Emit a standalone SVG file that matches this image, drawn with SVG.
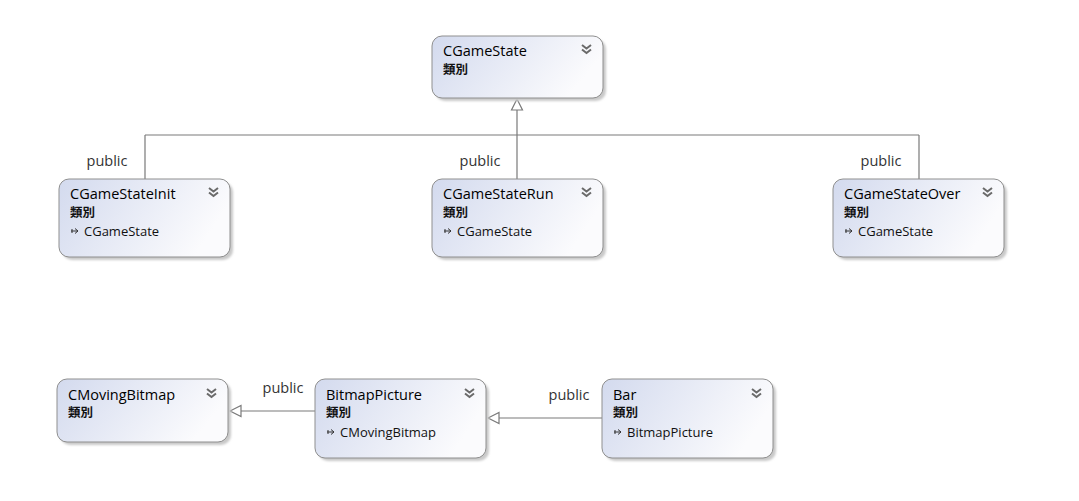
<svg xmlns="http://www.w3.org/2000/svg" width="1079" height="501" viewBox="0 0 1079 501">
<style>
.box{fill:url(#g);stroke:#8f8f8f;stroke-width:1}
.sh{fill:#c9c9c9;filter:url(#blur)}
.t{font-family:"Open Sans","Noto Sans","Liberation Sans",sans-serif;font-size:14.5px;fill:#000}
.k{font-family:"Noto Sans CJK TC","Noto Sans CJK SC",sans-serif;font-size:12.5px;font-weight:bold;fill:#111}
.b{font-family:"Open Sans","Noto Sans","Liberation Sans",sans-serif;font-size:13px;fill:#111}
.lbl{font-family:"Open Sans","Noto Sans","Liberation Sans",sans-serif;font-size:14.5px;fill:#333}
.ln{stroke:#7a7a7a;stroke-width:1.2;fill:none}
.tri{fill:#fff;stroke:#7a7a7a;stroke-width:1.2}
.ch{stroke:#6a6a6a;stroke-width:2;fill:none}
.ar{stroke:#333;stroke-width:1;fill:none}
</style>
<defs>
<linearGradient id="g" x1="0" y1="0" x2="1" y2="0.3">
<stop offset="0" stop-color="#d3daee"/>
<stop offset="1" stop-color="#fbfbfd"/>
</linearGradient>
<filter id="blur" x="-10%" y="-10%" width="120%" height="130%"><feGaussianBlur stdDeviation="1.2"/></filter>
<g id="chev"><path class="ch" d="M0,0 l4.5,3.5 l4.5,-3.5 M0,4.5 l4.5,3.5 l4.5,-3.5"/></g>
<g id="arr"><path class="ar" d="M0,0 h7 M4,-2.5 l3,2.5 l-3,2.5 M1,-2 v4"/></g>
</defs>
<rect width="1079" height="501" fill="#fff"/>
<g id="connectors">
<path class="ln" d="M517,110 V135 M145,135 H919 M145,135 V179 M517,135 V179 M919,135 V179"/>
<path class="tri" d="M517,99 L511.5,110 L522.5,110 Z"/>
<path class="ln" d="M241,411 H315"/>
<path class="tri" d="M230,411 L241,405.5 L241,416.5 Z"/>
<path class="ln" d="M499,418 H602"/>
<path class="tri" d="M488,418 L499,412.5 L499,423.5 Z"/>
<text class="lbl" x="107" y="166" text-anchor="middle">public</text>
<text class="lbl" x="480" y="166" text-anchor="middle">public</text>
<text class="lbl" x="881" y="166" text-anchor="middle">public</text>
<text class="lbl" x="283" y="393" text-anchor="middle">public</text>
<text class="lbl" x="569" y="400" text-anchor="middle">public</text>
</g>
<g id="CGameState">
<rect class="sh" x="435" y="39" width="171" height="62" rx="10"/>
<rect class="box" x="432" y="36" width="171" height="62" rx="10"/>
<text class="t" x="443" y="56">CGameState</text>
<text class="k" x="443" y="74">類別</text>
<use href="#chev" x="582" y="45"/>
</g>
<g id="CGameStateInit">
<rect class="sh" x="62" y="182" width="171" height="78" rx="10"/>
<rect class="box" x="59" y="179" width="171" height="78" rx="10"/>
<text class="t" x="70" y="199">CGameStateInit</text>
<text class="k" x="70" y="217">類別</text>
<use href="#arr" x="71" y="231"/>
<text class="b" x="84" y="235.5">CGameState</text>
<use href="#chev" x="209" y="188"/>
</g>
<g id="CGameStateRun">
<rect class="sh" x="435" y="182" width="171" height="78" rx="10"/>
<rect class="box" x="432" y="179" width="171" height="78" rx="10"/>
<text class="t" x="443" y="199">CGameStateRun</text>
<text class="k" x="443" y="217">類別</text>
<use href="#arr" x="444" y="231"/>
<text class="b" x="457" y="235.5">CGameState</text>
<use href="#chev" x="582" y="188"/>
</g>
<g id="CGameStateOver">
<rect class="sh" x="836" y="182" width="171" height="78" rx="10"/>
<rect class="box" x="833" y="179" width="171" height="78" rx="10"/>
<text class="t" x="844" y="199">CGameStateOver</text>
<text class="k" x="844" y="217">類別</text>
<use href="#arr" x="845" y="231"/>
<text class="b" x="858" y="235.5">CGameState</text>
<use href="#chev" x="983" y="188"/>
</g>
<g id="CMovingBitmap">
<rect class="sh" x="60" y="382" width="171" height="63" rx="10"/>
<rect class="box" x="57" y="379" width="171" height="63" rx="10"/>
<text class="t" x="68" y="400">CMovingBitmap</text>
<text class="k" x="68" y="417">類別</text>
<use href="#chev" x="207" y="389"/>
</g>
<g id="BitmapPicture">
<rect class="sh" x="318" y="382" width="171" height="79" rx="10"/>
<rect class="box" x="315" y="379" width="171" height="79" rx="10"/>
<text class="t" x="326" y="400">BitmapPicture</text>
<text class="k" x="326" y="417">類別</text>
<use href="#arr" x="327" y="432"/>
<text class="b" x="340" y="436.5">CMovingBitmap</text>
<use href="#chev" x="465" y="389"/>
</g>
<g id="Bar">
<rect class="sh" x="605" y="382" width="171" height="79" rx="10"/>
<rect class="box" x="602" y="379" width="171" height="79" rx="10"/>
<text class="t" x="613" y="400">Bar</text>
<text class="k" x="613" y="417">類別</text>
<use href="#arr" x="614" y="432"/>
<text class="b" x="627" y="436.5">BitmapPicture</text>
<use href="#chev" x="752" y="389"/>
</g>
</svg>
